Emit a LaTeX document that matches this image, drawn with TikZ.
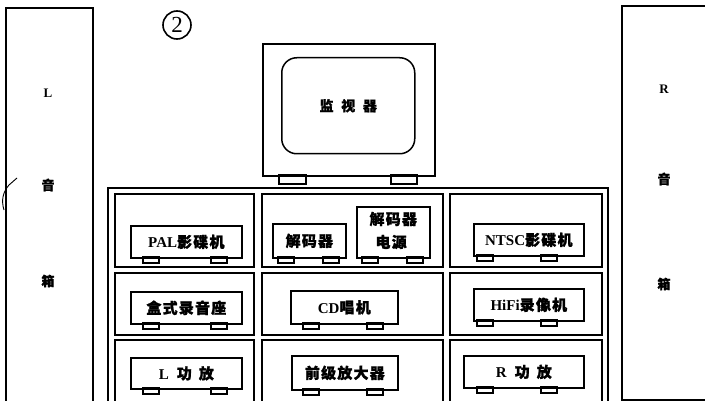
\documentclass[tikz,border=0pt]{standalone}
\usepackage{fontspec}
\setmainfont{Liberation Serif}
\newfontfamily\cjk[LetterSpace=8,FakeBold=1.2]{Noto Sans CJK SC}
\newfontfamily\cjkw[LetterSpace=55,FakeBold=1.2]{Noto Sans CJK SC}
\usetikzlibrary{calc}
\tikzset{
  ln/.style={line width=1.8pt},
  dev/.style={draw, line width=1.7pt, rectangle, inner sep=0pt, font=\fontsize{15}{17}\selectfont\bfseries},
  foot/.style={draw, line width=1.5pt},
  spk/.style={font=\fontsize{13}{15}\selectfont\bfseries},
}
\newcommand\device[8]{%
  \node[dev, minimum width={(#4-#2)*1pt}, minimum height={(#5-#3)*1pt}, anchor=north west] (#1) at (#2,#3) {#8};
  \draw[foot] (#6,#5) rectangle ++(16,6);
  \draw[foot] (#7,#5) rectangle ++(16,6);
}
\begin{document}
\begin{tikzpicture}[x=1pt,y=-1pt]
\useasboundingbox (0,0) rectangle (705,401);
\clip (0,0) rectangle (705,401);
\fill[white] (0,0) rectangle (705,401);

% speakers
\draw[ln] (6,405) -- (6,8) -- (93,8) -- (93,405);
\draw[ln] (712,400) -- (622,400) -- (622,6) -- (712,6);
\node[spk] (lL) at (48,93) {L};
\node[spk] (lyin) at (48,185) {\cjk 音};
\node[spk] (lxiang) at (48,281) {\cjk 箱};
\node[spk] (rR) at (664,89) {R};
\node[spk] (ryin) at (664,179) {\cjk 音};
\node[spk] (rxiang) at (664,284) {\cjk 箱};
\draw[line width=0.9pt] (17,178) -- (9,185) .. controls (3,192) and (1,200) .. (4,210);

% circled 2
\node[draw, circle, line width=1.6pt, inner sep=1.5pt, minimum size=28pt, font=\fontsize{23}{25}\selectfont] (num) at (177,25) {2};

% monitor
\node[draw, ln, rectangle, minimum width=172pt, minimum height=132pt, anchor=north west] (mon) at (262,43) {};
\node[draw, line width=1.5pt, rectangle, rounded corners=15pt, minimum width=133pt, minimum height=96pt, anchor=north west, font=\fontsize{14}{16}\selectfont\bfseries] (scr) at (281,57) {\cjkw 监视器};
\draw[foot] (279,175) rectangle (306,184);
\draw[foot] (391,175) rectangle (417,184);

% cabinet frame
\draw[ln] (108,405) -- (108,188) -- (608,188) -- (608,405);
\foreach \xa/\xb in {115/254, 262/443, 450/602}{
  \foreach \ya/\yb in {194/267, 273/335, 340/405}{
    \draw[ln] (\xa,\ya) rectangle (\xb,\yb);
  }
}

% devices
\device{pal}{130}{225}{241}{257}{143}{211}{PAL{\cjk 影碟机}}
\device{jmq}{272}{223}{345}{257}{278}{323}{\cjk 解码器}
\device{jmqdy}{356}{206}{429}{257}{362}{407}{}
\node[font=\fontsize{15}{17}\selectfont\bfseries, anchor=west] (jmqdy1) at (366,219) {\cjk 解码器};
\node[font=\fontsize{15}{17}\selectfont\bfseries, anchor=west] (jmqdy2) at (372,242) {\cjk 电源};
\device{ntsc}{473}{223}{583}{255}{477}{541}{NTSC{\cjk 影碟机}}
\device{hs}{130}{291}{241}{323}{143}{211}{\cjk 盒式录音座}
\device{cd}{290}{290}{397}{323}{303}{367}{CD{\cjk 唱机}}
\device{hifi}{473}{288}{583}{320}{477}{541}{HiFi{\cjk 录像机}}
\device{lgf}{130}{357}{241}{388}{143}{211}{L\hspace{8pt}{\cjk 功}\hspace{7pt}{\cjk 放}}
\device{qj}{291}{355}{397}{389}{303}{367}{\cjk 前级放大器}
\device{rgf}{463}{355}{583}{387}{477}{541}{R\hspace{8pt}{\cjk 功}\hspace{7pt}{\cjk 放}}
\end{tikzpicture}
\end{document}
